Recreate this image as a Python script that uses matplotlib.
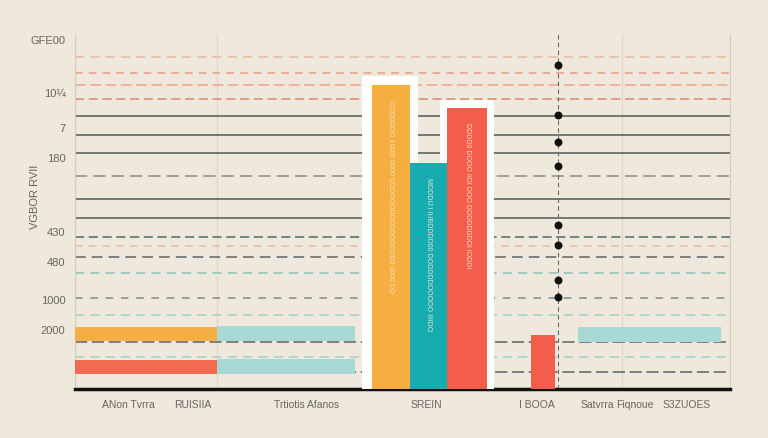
import matplotlib
matplotlib.use("Agg")
import matplotlib.pyplot as plt

BG = "#efe8dc"
plt.rcParams["font.family"] = ["Liberation Sans", "DejaVu Sans"]

# ---- data ----
y_tick_vals = [98.6, 83.7, 73.8, 65.4, 44.5, 36.1, 25.4, 16.9]
y_tick_labels = ["GFE00", "10¼", "7", "180", "430", "480", "1000", "2000"]
x_tick_vals = [8.1, 17.9, 35.3, 53.7, 70.5, 79.7, 85.5, 93.3]
x_tick_labels = ["ANon Tvrra", "RUISIIA", "Trtiotis Afanos", "SREIN",
                 "I BOOA", "Satvrra", "Fiqnoue", "S3ZUOES"]

# vertical bars (left edge, width, height)
vbar_left = [45.3, 51.1, 56.8, 69.6]
vbar_width = [5.8, 5.7, 6.1, 3.7]
vbar_height = [85.6, 63.7, 79.2, 15.2]
vbar_colors = ["#f5ae3f", "#17adb0", "#f35d4c", "#f35d4c"]
vbar_text = ["CODDDDO 11000 0000 DDDDOODDDDDDDDDD0 0000 DD",
             "MDDDIJ I IUBDDDD00 DODDDDOOOOO IIIIDO",
             "DDDD0 DOOO IIDI DOO DDDDDDDDI IODDI"]

# white frames behind the main bars
frame_left = [43.8, 55.7]
frame_width = [8.6, 8.3]
frame_height = [88.2, 81.4]

# horizontal bars (bottom, height, left, width)
hbar_bottom = [13.5, 13.5, 4.2, 4.2, 13.2]
hbar_height = [4.0, 4.2, 4.0, 4.2, 4.2]
hbar_left = [0.0, 21.7, 0.0, 21.7, 76.8]
hbar_width = [21.7, 21.0, 21.7, 21.0, 21.8]
hbar_colors = ["#f5ad45", "#a9d9d6", "#f26a4f", "#a9d9d6", "#a9d9d6"]

# reference lines
line_y = [93.5, 89.0, 85.6, 81.7, 76.9, 71.5, 66.5, 60.0, 53.5, 48.2,
          42.8, 40.3, 37.2, 32.7, 25.6, 20.8, 13.2, 9.0, 4.8]
line_colors = ["#ecb79a", "#ea9a7c", "#e9a68a", "#dc8770", "#555a55", "#555a55",
               "#555a55", "#8a8f88", "#555a55", "#555a55", "#4f6b68", "#ebbca2",
               "#5d6462", "#8fc1bd", "#7f8c88", "#a3d0cc", "#5d6462", "#a3d0cc",
               "#5d6462"]
line_styles = [(0, (6, 4)), (0, (5, 4)), (0, (7, 3)), (0, (6, 3)), "-", "-",
               "-", (0, (8, 4)), "-", "-", (0, (6, 3)), (0, (5, 4)),
               (0, (7, 4)), (0, (6, 4)), (0, (5, 5)), (0, (6, 4)), (0, (8, 3)),
               (0, (6, 4)), (0, (8, 3))]

# dots
dot_x = [73.7] * 8
dot_y = [91.3, 77.2, 69.6, 62.8, 46.2, 40.6, 30.7, 25.9]

# ---- figure ----
fig = plt.figure(figsize=(7.68, 4.39), dpi=100, facecolor=BG)
ax = fig.add_axes([0.0977, 0.1116, 0.853, 0.8087], facecolor=BG)
ax.set_xlim(0, 100)
ax.set_ylim(0, 100)

for y, c, ls in zip(line_y, line_colors, line_styles):
    ax.axhline(y, color=c, linestyle=ls, linewidth=1.1, zorder=1)

for xv in [21.7, 83.5]:
    ax.axvline(xv, color="#ddd5c8", linewidth=0.8, zorder=0.5)

ax.axvline(73.7, color="#6b6b66", linestyle=(0, (4, 3)), linewidth=0.8, zorder=2)

ax.bar(frame_left, frame_height, width=frame_width, align="edge",
       color="white", zorder=3)
bars = ax.bar(vbar_left, vbar_height, width=vbar_width, align="edge",
              color=vbar_colors, zorder=4)
for b, t in zip(list(bars)[:3], vbar_text):
    ax.text(b.get_x() + b.get_width() / 2, b.get_height() - 4, t,
            rotation=270, ha="center", va="top", fontsize=5,
            color="#fbe9d0", alpha=0.9, zorder=5)

ax.barh(hbar_bottom, hbar_width, height=hbar_height, left=hbar_left,
        align="edge", color=hbar_colors, zorder=3)

ax.scatter(dot_x, dot_y, s=22, color="#111111", zorder=5)

ax.set_yticks(y_tick_vals)
ax.set_yticklabels(y_tick_labels, fontsize=8, color="#66665f")
ax.set_xticks(x_tick_vals)
ax.set_xticklabels(x_tick_labels, fontsize=7.5, color="#66665f")
ax.tick_params(axis="y", length=0, pad=7)
ax.tick_params(axis="x", length=0, pad=7)
ax.set_ylabel("VGBOR RVII", fontsize=8, color="#66665f")
ax.yaxis.set_label_coords(-0.054, 0.544)

for s in ["left", "right"]:
    ax.spines[s].set_color("#d3ccc0")
    ax.spines[s].set_linewidth(0.8)
ax.spines["top"].set_visible(False)
ax.spines["bottom"].set_color("#111111")
ax.spines["bottom"].set_linewidth(2.5)

fig.savefig("out.png", dpi=100, facecolor=BG)
